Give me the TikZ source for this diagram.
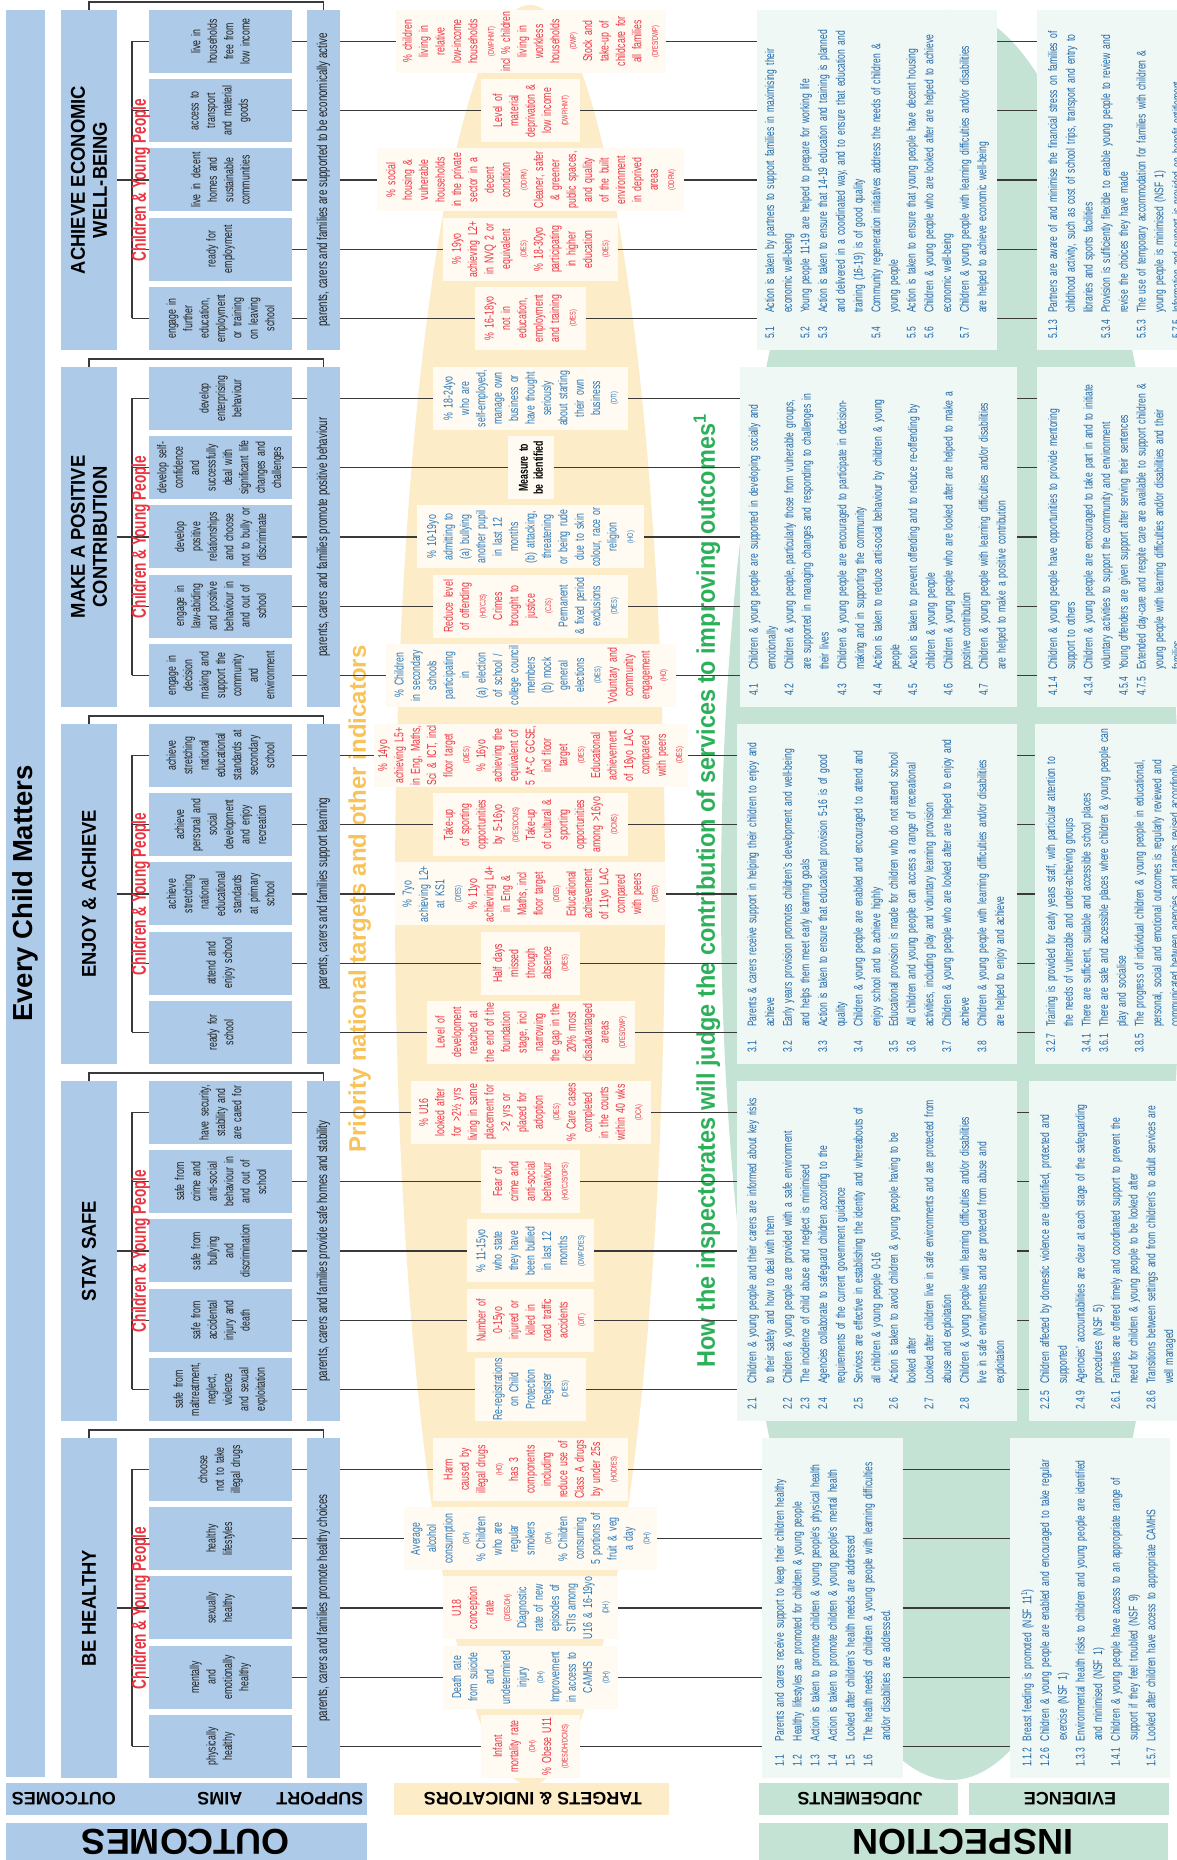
\documentclass[tikz,border=0pt]{standalone}
\usepackage{fontspec}
\setmainfont{Liberation Sans}[FakeStretch=0.68]
\newfontfamily\headfont{Liberation Sans}
\newfontfamily\titlefont{Liberation Sans}[FakeStretch=0.92]
\definecolor{cblue}{HTML}{ADCBE8}
\definecolor{cyellow}{HTML}{FCECC8}
\definecolor{tcream}{HTML}{FFFAF2}
\definecolor{cgreen}{HTML}{C5E3D5}
\definecolor{jfill}{HTML}{F0F8F6}
\definecolor{cred}{HTML}{EC3440}
\definecolor{cblu}{HTML}{2A78B6}
\definecolor{cjt}{HTML}{1F66A6}
\definecolor{cyt}{HTML}{F8C358}
\definecolor{cgt}{HTML}{2DB05A}
\definecolor{cline}{HTML}{3A3A3A}
\definecolor{ctext}{HTML}{1E1E1E}
\newcommand\ecmS[1]{{\fontsize{8.2}{16.4}\selectfont #1}}
\newcommand\ecmJ[2]{\makebox[26pt][l]{#1}#2}
\newcommand\ecmC[1]{\hspace*{26pt}#1}
\tikzset{
 outbox/.style={fill=cblue, minimum width=340, minimum height=56, align=center, text=black, font=\titlefont\bfseries\fontsize{20}{22}\selectfont},
 aimbox/.style={fill=cblue, minimum width=63, minimum height=143, text width=63, align=center, text=ctext, font=\fontsize{12.9}{16.4}\selectfont},
 supbox/.style={fill=cblue, minimum width=340, minimum height=33, text=ctext, font=\fontsize{14.3}{15}\selectfont},
 tbox/.style={fill=tcream, minimum width=63, text width=63, align=center, text=cred, font=\fontsize{12.9}{16.4}\selectfont},
 jbox/.style={fill=jfill, minimum width=340},
 jtxt/.style={align=left, text width=350, text=cjt, anchor=west, font=\fontsize{12.6}{17.7}\selectfont},
 etxt/.style={jtxt, anchor=north west},
 conn/.style={draw=cline, line width=1.1pt},
 cyp/.style={text=cred, anchor=base, font=\bfseries\fontsize{20}{22}\selectfont},
 lab/.style={rotate=90, text=black, font=\headfont\bfseries\fontsize{18}{20}\selectfont},
 biglab/.style={rotate=90, text=black, font=\headfont\bfseries\fontsize{36}{40}\selectfont},
}
\begin{document}
\begin{tikzpicture}[x=1pt,y=1pt,rotate=90,transform shape,every node/.style={inner sep=0pt,outer sep=0pt}]
\useasboundingbox (0,0) rectangle (1860,1177);
\fill[white] (0,0) rectangle (1860,1177);
% lenses
\fill[cyellow] (965,647) ellipse [x radius=890, y radius=135];
\fill[cgreen] (965,226) ellipse [x radius=885, y radius=230];
% big texts
\node[anchor=base, text=cyt, font=\headfont\bfseries\fontsize{24}{28}\selectfont] (ptxt) at (961,811) {Priority national targets and other indicators};
\node[anchor=base, text=cgt, font=\titlefont\bfseries\fontsize{25.5}{28}\selectfont] (htxt) at (969,462) {How the inspectorates will judge the contribution of services to improving outcomes\textsuperscript{1}};
% banner
\node[fill=cblue, minimum width=1767, minimum height=39, text=black, font=\headfont\bfseries\fontsize{27.5}{30}\selectfont] (ecm) at (966.5,1151.5) {Every Child Matters};
% bottom labels
\node[fill=cblue, minimum width=32, minimum height=361] (labo) at (61,990.5) {};
\node[lab] (l1) at (61,1113) {OUTCOMES};
\node[lab] (l2) at (61,957) {AIMS};
\node[lab] (l3) at (61,857) {SUPPORT};
\node[fill=cyellow, minimum width=32, minimum height=275] (labt) at (61,645.5) {};
\node[lab] (l4) at (61,644) {TARGETS \& INDICATORS};
\node[fill=cgreen, minimum width=32, minimum height=199] (labj) at (61,318.5) {};
\node[lab] (l5) at (61,317) {JUDGEMENTS};
\node[fill=cgreen, minimum width=32, minimum height=200] (labe) at (61,108) {};
\node[lab] (l6) at (61,107) {EVIDENCE};
\node[fill=cblue, minimum width=37, minimum height=361] (bigo) at (18.5,990.5) {};
\node[biglab] (l7) at (18.5,991) {OUTCOMES};
\node[fill=cgreen, minimum width=37, minimum height=409] (bigi) at (18.5,213.5) {};
\node[biglab] (l8) at (18.5,214) {INSPECTION};

% ===== outcome boxes
\node[outbox] (o0) at (252,1088) {BE HEALTHY};
\node[outbox] (o1) at (609,1088) {STAY SAFE};
\node[outbox] (o2) at (966,1088) {ENJOY \& ACHIEVE};
\node[outbox] (o3) at (1323,1088) {MAKE A POSITIVE\\CONTRIBUTION};
\node[outbox] (o4) at (1680,1088) {ACHIEVE ECONOMIC\\WELL-BEING};

% ===== aims
\node[aimbox] (a0-0) at (113.5,956.5) {physically\\healthy};
\node[aimbox] (a0-1) at (182.75,956.5) {mentally\\and\\emotionally\\healthy};
\node[aimbox] (a0-2) at (252,956.5) {sexually\\healthy};
\node[aimbox] (a0-3) at (321.25,956.5) {healthy\\lifestyles};
\node[aimbox] (a0-4) at (390.5,956.5) {choose\\not to take\\illegal drugs};
\node[aimbox] (a1-0) at (470.5,956.5) {safe from\\maltreatment,\\neglect,\\violence\\and sexual\\exploitation};
\node[aimbox] (a1-1) at (539.75,956.5) {safe from\\accidental\\injury and\\death};
\node[aimbox] (a1-2) at (609,956.5) {safe from\\bullying\\and\\discrimination};
\node[aimbox] (a1-3) at (678.25,956.5) {safe from\\crime and\\anti-social\\behaviour in\\and out of\\school};
\node[aimbox] (a1-4) at (747.5,956.5) {have security,\\stability and\\are cared for};
\node[aimbox] (a2-0) at (827.5,956.5) {ready for\\school};
\node[aimbox] (a2-1) at (896.75,956.5) {attend and\\enjoy school};
\node[aimbox] (a2-2) at (966,956.5) {achieve\\stretching\\national\\educational\\standards\\at primary\\school};
\node[aimbox] (a2-3) at (1035.25,956.5) {achieve\\personal and\\social\\development\\and enjoy\\recreation};
\node[aimbox] (a2-4) at (1104.5,956.5) {achieve\\stretching\\national\\educational\\standards at\\secondary\\school};
\node[aimbox] (a3-0) at (1184.5,956.5) {engage in\\decision\\making and\\support the\\community\\and\\environment};
\node[aimbox] (a3-1) at (1253.75,956.5) {engage in\\law-abiding\\and positive\\behaviour in\\and out of\\school};
\node[aimbox] (a3-2) at (1323,956.5) {develop\\positive\\relationships\\and choose\\not to bully or\\discriminate};
\node[aimbox] (a3-3) at (1392.25,956.5) {develop self-\\confidence\\and\\successfully\\deal with\\significant life\\changes and\\challenges};
\node[aimbox] (a3-4) at (1461.5,956.5) {develop\\enterprising\\behaviour};
\node[aimbox] (a4-0) at (1541.5,956.5) {engage in\\further\\education,\\employment\\or training\\on leaving\\school};
\node[aimbox] (a4-1) at (1610.75,956.5) {ready for\\employment};
\node[aimbox] (a4-2) at (1680,956.5) {live in decent\\homes and\\sustainable\\communities};
\node[aimbox] (a4-3) at (1749.25,956.5) {access to\\transport\\and material\\goods};
\node[aimbox] (a4-4) at (1818.5,956.5) {live in\\households\\free from\\low income};

% ===== support
\node[supbox] (s0) at (252,853.5) {parents, carers and families promote healthy choices};
\node[supbox] (s1) at (609,853.5) {parents, carers and families provide safe homes and stability};
\node[supbox] (s2) at (966,853.5) {parents, carers and families support learning};
\node[supbox] (s3) at (1323,853.5) {parents, carers and families promote positive behaviour};
\node[supbox] (s4) at (1680,853.5) {parents, carers and families are supported to be economically active};

% ===== targets
\node[tbox, minimum height=99] (t0-0) at (113.5,646) {Infant\\mortality rate\\\ecmS{(DH)}\\\% Obese U11\\\ecmS{(DfES/DH/DCMS)}};
\node[tbox, minimum height=175, text=cblu] (t0-1) at (182.75,646) {Death rate\\from suicide\\and\\undetermined\\injury\\\ecmS{(DH)}\\Improvement\\in access to\\CAMHS\\\ecmS{(DH)}};
\node[tbox, minimum height=175] (t0-2) at (252,646) {U18\\conception\\rate\\\ecmS{(DfES/DH)}\\\color{cblu}Diagnostic\\rate of new\\episodes of\\STIs among\\U16 \& 16-19yo\\\ecmS{(DH)}};
\node[tbox, minimum height=253, text=cblu] (t0-3) at (321.25,646) {Average\\alcohol\\consumption\\\ecmS{(DH)}\\\% Children\\who are\\regular\\smokers\\\ecmS{(DH)}\\\% Children\\consuming\\5 portions of\\fruit \& veg\\a day\\\ecmS{(DH)}};
\node[tbox, minimum height=195] (t0-4) at (390.5,646) {Harm\\caused by\\illegal drugs\\\ecmS{(HO)}\\has 3\\components\\including\\reduce use of\\Class A drugs\\by under 25s\\\ecmS{(HO/DfES)}};
\node[tbox, minimum height=111, text=cblu] (t1-0) at (470.5,646) {Re-registrations\\on Child\\Protection\\Register\\\ecmS{(DfES)}};
\node[tbox, minimum height=127] (t1-1) at (539.75,646) {Number of\\0-15yo\\injured or\\killed in\\road traffic\\accidents\\\ecmS{(DfT)}};
\node[tbox, minimum height=127, text=cblu] (t1-2) at (609,646) {\% 11-15yo\\who state\\they have\\been bullied\\in last 12\\months\\\ecmS{(DWP/DfES)}};
\node[tbox, minimum height=99] (t1-3) at (678.25,646) {Fear of\\crime and\\anti-social\\behaviour\\\ecmS{(HO/CJS/OPS)}};
\node[tbox, minimum height=240] (t1-4) at (747.5,646) {\% U16\\looked after\\for >2½ yrs\\living in same\\placement for\\>2 yrs or\\placed for\\adoption\\\ecmS{(DfES)}\\\% Care cases\\completed\\in the courts\\within 40 wks\\\ecmS{(DCA)}};
\node[tbox, minimum height=208] (t2-0) at (827.5,646) {Level of\\development\\reached at\\the end of the\\foundation\\stage, incl\\narrowing\\the gap in the\\20\% most\\disadvantaged\\areas\\\ecmS{(DfES/DWP)}};
\node[tbox, minimum height=99] (t2-1) at (896.75,646) {Half days\\missed\\through\\absence\\\ecmS{(DfES)}};
\node[tbox, minimum height=271, text=cblu] (t2-2) at (966,646) {\% 7yo\\achieving L2+\\at KS1\\\ecmS{(DfES)}\\\color{cred}\% 11yo\\achieving L4+\\in Eng \&\\Maths, incl\\floor target\\\ecmS{(DfES)}\\Educational\\achievement\\of 11yo LAC\\compared\\with peers\\\ecmS{(DfES)}};
\node[tbox, minimum height=195] (t2-3) at (1035.25,646) {Take-up\\of sporting\\opportunities\\by 5-16yo\\\ecmS{(DfES/DCMS)}\\Take-up\\of cultural \&\\sporting\\opportunities\\among >16yo\\\ecmS{(DCMS)}};
\node[tbox, minimum height=314] (t2-4) at (1104.5,646) {\% 14yo\\achieving L5+\\in Eng, Maths,\\Sci \& ICT, incl\\floor target\\\ecmS{(DfES)}\\\% 16yo\\achieving the\\equivalent of\\5 A*-C GCSE,\\incl floor\\target\\\ecmS{(DfES)}\\Educational\\achievement\\of 16yo LAC\\compared\\with peers\\\ecmS{(DfES)}};
\node[tbox, minimum height=290, text=cblu] (t3-0) at (1184.5,646) {\% Children\\in secondary\\schools\\participating\\in\\(a) election\\of school /\\college council\\members\\(b) mock\\general\\elections\\\ecmS{(DfES)}\\\color{cred}Voluntary and\\community\\engagement\\\ecmS{(HO)}};
\node[tbox, minimum height=195] (t3-1) at (1253.75,646) {Reduce level\\of offending\\\ecmS{(HO/CJS)}\\Crimes\\brought to\\justice\\\ecmS{(CJS)}\\\color{cblu}Permanent\\\& fixed period\\exclusions\\\ecmS{(DfES)}};
\node[tbox, minimum height=227, text=cblu] (t3-2) at (1323,646) {\% 10-19yo\\admitting to\\(a) bullying\\another pupil\\in last 12\\months\\(b) attacking,\\threatening\\or being rude\\due to skin\\colour, race or\\religion\\\ecmS{(HO)}};
\node[tbox, minimum height=46, text=black, font=\bfseries\fontsize{12.9}{15}\selectfont] (t3-3) at (1392.25,646) {Measure to\\be identified};
\node[tbox, minimum height=195, text=cblu] (t3-4) at (1461.5,646) {\% 18-24yo\\who are\\self-employed,\\manage own\\business or\\have thought\\seriously\\about starting\\their own\\business\\\ecmS{(DTI)}};
\node[tbox, minimum height=111] (t4-0) at (1541.5,646) {\% 16-18yo\\not in\\education,\\employment\\and training\\\ecmS{(DfES)}};
\node[tbox, minimum height=175] (t4-1) at (1610.75,646) {\% 19yo\\achieving L2+\\in NVQ 2 or\\equivalent\\\ecmS{(DfES)}\\\% 18-30yo\\participating\\in higher\\education\\\ecmS{(DfES)}};
\node[tbox, minimum height=307] (t4-2) at (1680,646) {\% social\\housing \&\\vulnerable\\households\\in the private\\sector in a\\decent\\condition\\\ecmS{(ODPM)}\\Cleaner, safer\\\& greener\\public spaces,\\and quality\\of the built\\environment\\in deprived\\areas\\\ecmS{(ODPM)}};
\node[tbox, minimum height=99] (t4-3) at (1749.25,646) {Level of\\material\\deprivation \&\\low income\\\ecmS{(DWP/HMT)}};
\node[tbox, minimum height=270] (t4-4) at (1818.5,646) {\% children\\living in\\relative\\low-income\\households\\\ecmS{(DWP/HMT)}\\incl \% children\\living in\\workless\\households\\\ecmS{(DWP)}\\Stock and\\take-up of\\childcare for\\all families\\\ecmS{(DfES/DWP)}};

% ===== judgement and evidence boxes
\node[jbox, minimum height=141] (j0) at (252,344.5) {};
\node[jbox, minimum height=280] (j1) at (609,300) {};
\node[jbox, minimum height=280] (j2) at (966,300) {};
\node[jbox, minimum height=277] (j3) at (1323,298.5) {};
\node[jbox, minimum height=240] (j4) at (1680,300) {};
\node[jbox, minimum height=160] (e0) at (252,87) {};
\node[jbox, minimum height=158] (e1) at (609,69) {};
\node[jbox, minimum height=152] (e2) at (966,66) {};
\node[jbox, minimum height=150] (e3) at (1323,65) {};
\node[jbox, minimum height=150] (e4) at (1680,65) {};

\node[jtxt] (jt0) at (93,344.5) {\ecmJ{1.1}{Parents and carers receive support to keep their children healthy}\\
\ecmJ{1.2}{Healthy lifestyles are promoted for children \& young people}\\
\ecmJ{1.3}{Action is taken to promote children \& young people's physical health}\\
\ecmJ{1.4}{Action is taken to promote children \& young people's mental health}\\
\ecmJ{1.5}{Looked after children's health needs are addressed}\\
\ecmJ{1.6}{The health needs of children \& young people with learning difficulties}\\
\ecmC{and/or disabilities are addressed.}};
\node[etxt] (et0) at (93,156) {\ecmJ{1.1.2}{Breast feeding is promoted (NSF 11\textsuperscript{1})}\\
\ecmJ{1.2.6}{Children \& young people are enabled and encouraged to take regular}\\
\ecmC{exercise (NSF 1)}\\
\ecmJ{1.3.3}{Environmental health risks to children and young people are identified}\\
\ecmC{and minimised (NSF 1)}\\
\ecmJ{1.4.1}{Children \& young people have access to an appropriate range of}\\
\ecmC{support if they feel troubled (NSF 9)}\\
\ecmJ{1.5.7}{Looked after children have access to appropriate CAMHS}};

\node[jtxt] (jt1) at (450,300) {\ecmJ{2.1}{Children \& young people and their carers are informed about key risks}\\
\ecmC{to their safety and how to deal with them}\\
\ecmJ{2.2}{Children \& young people are provided with a safe environment}\\
\ecmJ{2.3}{The incidence of child abuse and neglect is minimised}\\
\ecmJ{2.4}{Agencies collaborate to safeguard children according to the}\\
\ecmC{requirements of the current government guidance}\\
\ecmJ{2.5}{Services are effective in establishing the identity and whereabouts of}\\
\ecmC{all children \& young people 0-16}\\
\ecmJ{2.6}{Action is taken to avoid children \& young people having to be}\\
\ecmC{looked after}\\
\ecmJ{2.7}{Looked after children live in safe environments and are protected from}\\
\ecmC{abuse and exploitation}\\
\ecmJ{2.8}{Children \& young people with learning difficulties and/or disabilities}\\
\ecmC{live in safe environments and are protected from abuse and}\\
\ecmC{exploitation}};
\node[etxt] (et1) at (450,137) {\ecmJ{2.2.5}{Children affected by domestic violence are identified, protected and}\\
\ecmC{supported}\\
\ecmJ{2.4.9}{Agencies' accountabilities are clear at each stage of the safeguarding}\\
\ecmC{procedures (NSF 5)}\\
\ecmJ{2.6.1}{Families are offered timely and coordinated support to prevent the}\\
\ecmC{need for children \& young people to be looked after}\\
\ecmJ{2.8.6}{Transitions between settings and from children's to adult services are}\\
\ecmC{well managed}};

\node[jtxt] (jt2) at (807,300) {\ecmJ{3.1}{Parents \& carers receive support in helping their children to enjoy and}\\
\ecmC{achieve}\\
\ecmJ{3.2}{Early years provision promotes children's development and well-being}\\
\ecmC{and helps them meet early learning goals}\\
\ecmJ{3.3}{Action is taken to ensure that educational provision 5-16 is of good}\\
\ecmC{quality}\\
\ecmJ{3.4}{Children \& young people are enabled and encouraged to attend and}\\
\ecmC{enjoy school and to achieve highly}\\
\ecmJ{3.5}{Educational provision is made for children who do not attend school}\\
\ecmJ{3.6}{All children and young people can access a range of recreational}\\
\ecmC{activities, including play and voluntary learning provision}\\
\ecmJ{3.7}{Children \& young people who are looked after are helped to enjoy and}\\
\ecmC{achieve}\\
\ecmJ{3.8}{Children \& young people with learning difficulties and/or disabilities}\\
\ecmC{are helped to enjoy and achieve}};
\node[etxt] (et2) at (807,131) {\ecmJ{3.2.7}{Training is provided for early years staff, with particular attention to}\\
\ecmC{the needs of vulnerable and under-achieving groups}\\
\ecmJ{3.4.1}{There are sufficient, suitable and accessible school places}\\
\ecmJ{3.6.1}{There are safe and accessible places where children \& young people can}\\
\ecmC{play and socialise}\\
\ecmJ{3.8.5}{The progress of individual children \& young people in educational,}\\
\ecmC{personal, social and emotional outcomes is regularly reviewed and}\\
\ecmC{communicated between agencies, and targets revised accordingly}};

\node[jtxt] (jt3) at (1164,298.5) {\ecmJ{4.1}{Children \& young people are supported in developing socially and}\\
\ecmC{emotionally}\\
\ecmJ{4.2}{Children \& young people, particularly those from vulnerable groups,}\\
\ecmC{are supported in managing changes and responding to challenges in}\\
\ecmC{their lives}\\
\ecmJ{4.3}{Children \& young people are encouraged to participate in decision-}\\
\ecmC{making and in supporting the community}\\
\ecmJ{4.4}{Action is taken to reduce anti-social behaviour by children \& young}\\
\ecmC{people}\\
\ecmJ{4.5}{Action is taken to prevent offending and to reduce re-offending by}\\
\ecmC{children \& young people}\\
\ecmJ{4.6}{Children \& young people who are looked after are helped to make a}\\
\ecmC{positive contribution}\\
\ecmJ{4.7}{Children \& young people with learning difficulties and/or disabilities}\\
\ecmC{are helped to make a positive contribution}};
\node[etxt] (et3) at (1164,129) {\ecmJ{4.1.4}{Children \& young people have opportunities to provide mentoring}\\
\ecmC{support to others}\\
\ecmJ{4.3.4}{Children \& young people are encouraged to take part in and to initiate}\\
\ecmC{voluntary activities to support the community and environment}\\
\ecmJ{4.5.4}{Young offenders are given support after serving their sentences}\\
\ecmJ{4.7.5}{Extended day-care and respite care are available to support children \&}\\
\ecmC{young people with learning difficulties and/or disabilities and their}\\
\ecmC{families}};

\node[jtxt] (jt4) at (1521,300) {\ecmJ{5.1}{Action is taken by partners to support families in maximising their}\\
\ecmC{economic well-being}\\
\ecmJ{5.2}{Young people 11-19 are helped to prepare for working life}\\
\ecmJ{5.3}{Action is taken to ensure that 14-19 education and training is planned}\\
\ecmC{and delivered in a coordinated way, and to ensure that education and}\\
\ecmC{training (16-19) is of good quality}\\
\ecmJ{5.4}{Community regeneration initiatives address the needs of children \&}\\
\ecmC{young people}\\
\ecmJ{5.5}{Action is taken to ensure that young people have decent housing}\\
\ecmJ{5.6}{Children \& young people who are looked after are helped to achieve}\\
\ecmC{economic well-being}\\
\ecmJ{5.7}{Children \& young people with learning difficulties and/or disabilities}\\
\ecmC{are helped to achieve economic well-being}};
\node[etxt] (et4) at (1521,129) {\ecmJ{5.1.3}{Partners are aware of and minimise the financial stress on families of}\\
\ecmC{childhood activity, such as cost of school trips, transport and entry to}\\
\ecmC{libraries and sports facilities}\\
\ecmJ{5.3.4}{Provision is sufficiently flexible to enable young people to review and}\\
\ecmC{revise the choices they have made}\\
\ecmJ{5.5.3}{The use of temporary accommodation for families with children \&}\\
\ecmC{young people is minimised (NSF 1)}\\
\ecmJ{5.7.5}{Information and support is provided on benefit entitlement}};

% ===== connectors
\foreach \b in {0,...,4}{
  \draw[conn] (o\b.south) -- ++(0,-15);
  \draw[conn] (a\b-0.north) -- ++(0,17) coordinate (p\b);
  \draw[conn] (a\b-4.north) -- ++(0,17) coordinate (q\b);
  \draw[conn] (p\b) -- (q\b);
  \draw[conn] (o\b.east) -- ++(8,0) |- (s\b.east);
  \foreach \i in {0,...,4}{
    \draw[conn] (a\b-\i.north) -- ++(0,17);
    \draw[conn] (a\b-\i.south) -- (a\b-\i.south |- s\b.north);
    \draw[conn] (a\b-\i.south |- s\b.south) -- (t\b-\i.north);
    \draw[conn] (t\b-\i.south) -- (t\b-\i.south |- j\b.north);
    \draw[conn] (t\b-\i.south |- j\b.south) -- (t\b-\i.south |- e\b.north);
  }
}
% Children & Young People labels
\node[cyp] (c0) at (252,1031) {Children \& Young People};
\node[cyp] (c1) at (609,1031) {Children \& Young People};
\node[cyp] (c2) at (966,1031) {Children \& Young People};
\node[cyp] (c3) at (1323,1031) {Children \& Young People};
\node[cyp] (c4) at (1680,1031) {Children \& Young People};
\end{tikzpicture}
\end{document}
